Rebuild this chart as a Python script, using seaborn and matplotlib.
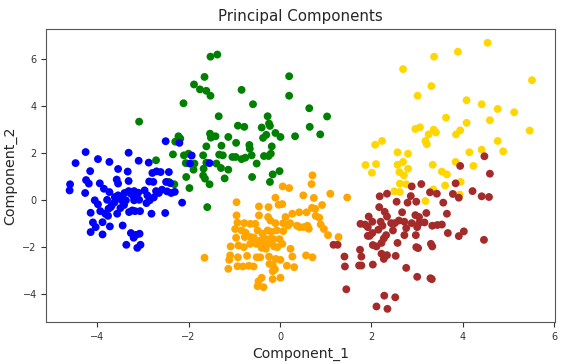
import matplotlib
matplotlib.use("Agg")
import matplotlib.pyplot as plt
import seaborn as sns
import pandas as pd

# cluster points (Component_1, Component_2)
green_x = [-1.52, -1.37, -1.65, 0.20, -1.88, -1.75, -1.61, -0.84, -1.52, 0.20, -2.11, -0.59, 0.64,
           -3.08, -1.34, -0.27, 1.03, -0.92, -0.78, -0.24, -0.22, -0.40, 0.65, -0.10, -0.30, 0.01,
           0.33, 0.88, -1.53, -1.51, -1.41, -1.13, -0.37, -2.22, -2.18, -2.29, -0.96, -1.61, -1.28,
           -0.67, -0.66, -0.18, -2.34, -2.10, -2.00, -1.68, -1.33, -1.25, -1.04, -0.97, -0.84, -0.76,
           -0.62, -0.51, -0.35, -0.20, -0.25, -2.71, -2.06, -1.87, -1.61, -1.39, -1.29, -1.13, -1.67,
           -1.89, -2.05, -1.21, -0.61, -0.16, -0.01, -1.64, -1.68, -1.54, -0.22, -2.31, -2.43, -1.98,
           -1.59]
green_y = [6.09, 6.18, 5.23, 5.26, 4.91, 4.70, 4.64, 4.68, 4.43, 4.43, 4.11, 4.07, 3.90,
           3.33, 3.56, 3.56, 3.55, 3.16, 3.11, 3.25, 3.15, 3.08, 3.11, 2.85, 2.77, 2.68,
           2.71, 2.79, 2.82, 2.65, 2.71, 2.68, 2.64, 2.71, 2.61, 2.48, 2.43, 2.28, 2.31,
           2.34, 2.18, 2.28, 1.94, 1.90, 1.97, 1.90, 1.93, 1.90, 1.83, 1.83, 1.74, 1.80,
           1.90, 1.55, 1.87, 1.97, 1.87, 1.69, 1.57, 1.55, 1.59, 1.55, 1.36, 1.29, 1.33,
           1.29, 0.98, 0.92, 0.98, 1.09, 1.23, 0.91, 1.04, 0.67, 0.77, 0.67, 0.77, 0.51,
           -0.30]

blue_x = [-4.25, -4.47, -4.59, -4.60, -3.98, -3.73, -3.31, -3.09, -2.87, -2.50, -2.20, -1.93, -1.97,
          -1.54, -4.15, -4.24, -4.18, -4.26, -3.94, -3.54, -3.33, -3.57, -3.54, -3.31, -3.85, -3.73,
          -4.05, -4.14, -3.93, -3.98, -3.78, -3.68, -3.54, -3.46, -3.49, -3.41, -3.37, -3.31, -3.26,
          -3.19, -3.10, -2.96, -3.08, -3.19, -3.23, -3.30, -3.17, -3.06, -3.56, -3.75, -3.82, -3.76,
          -2.81, -2.92, -2.85, -2.79, -2.70, -2.61, -2.77, -2.86, -2.43, -2.40, -2.49, -2.71, -2.65,
          -2.58, -2.47, -2.38, -2.76, -2.51, -2.14, -4.09, -3.88, -3.72, -4.03, -3.44, -4.14, -3.88,
          -3.26, -3.15, -3.07, -3.20, -3.36, -3.12, -3.05, -3.61, -3.60, -3.40, -3.20, -2.90, -3.70,
          -3.62, -3.45, -2.30]
blue_y = [2.04, 1.57, 0.67, 0.41, 1.74, 1.62, 2.01, 1.67, 1.59, 2.50, 2.43, 1.89, 1.55,
          1.57, 1.23, 0.85, 0.70, 0.30, 0.71, 1.32, 1.21, 0.87, 0.70, 0.81, 0.48, 0.34,
          -0.01, -0.54, -0.47, -0.18, 0.01, -0.23, 0.20, -0.01, -0.34, -0.21, -0.01, 0.38, 0.27,
          0.38, 0.31, 0.41, 0.01, -0.01, -0.44, -0.51, -0.47, -0.47, -0.58, -0.37, -0.58, -0.67,
          -0.58, -0.13, -0.01, 1.15, 1.22, 1.19, 0.77, 0.79, 1.19, 0.72, 0.77, 0.38, 0.30,
          0.44, 0.37, 0.30, 0.11, -0.55, -0.11, -0.95, -0.94, -1.12, -1.15, -1.08, -1.36, -1.46,
          -1.40, -1.48, -1.43, -1.60, -1.90, -2.03, -1.90, 0.13, 0.10, 0.30, 0.15, 0.20, -0.30,
          -0.10, 0.05, 0.35]

orange_x = [0.71, 0.06, 0.20, 0.69, -0.10, 0.51, 0.74, 1.10, 1.47, -0.95, 0.05, -0.03, -0.46,
            -0.25, 0.92, 0.70, 0.77, -0.95, -0.46, -0.26, 0.12, 0.27, 0.42, 0.58, 0.78, 0.86,
            -0.93, -0.78, -0.65, -0.54, -0.21, -0.10, 0.07, 0.18, 0.22, 0.37, 0.43, 0.52, 0.60,
            0.63, 0.89, 0.96, 1.05, 1.28, -0.98, -0.84, -0.75, -0.96, -0.77, -0.64, -0.57, -0.38,
            -0.49, -0.27, -0.19, -0.07, 0.07, -0.43, -0.32, -0.22, -0.14, -0.01, 0.05, -0.25, -0.38,
            -0.51, -0.65, -0.79, -0.91, -1.08, -0.40, -0.31, -0.13, -0.06, 0.23, -1.09, -0.92, -0.72,
            -0.51, -0.43, -0.24, -0.09, 0.01, 0.27, 0.57, 0.71, -1.65, -1.11, -1.13, -0.93, -0.81,
            -0.68, -0.58, -0.23, -0.16, -0.11, 0.15, 0.31, -0.16, -0.40, -0.47, -0.16, 0.01, -0.49,
            -0.36]
orange_y = [1.05, 0.58, 0.51, 0.68, 0.10, 0.20, 0.09, 0.27, 0.11, -0.09, -0.17, -0.20, -0.27,
            -0.30, -0.21, -0.33, -0.37, -0.65, -0.65, -0.72, -0.72, -0.58, -0.52, -0.52, -0.67, -0.75,
            -0.96, -0.98, -1.01, -1.01, -0.87, -0.98, -0.98, -1.08, -0.98, -1.09, -1.15, -1.15, -1.09,
            -1.22, -1.04, -1.23, -1.49, -1.57, -1.23, -1.29, -1.39, -1.60, -1.57, -1.57, -1.60, -1.43,
            -1.29, -1.29, -1.35, -1.29, -1.32, -1.72, -1.65, -1.66, -1.66, -1.66, -1.86, -1.86, -1.83,
            -1.86, -1.86, -2.00, -1.93, -1.97, -2.03, -2.07, -1.97, -2.00, -2.07, -2.35, -2.43, -2.37,
            -2.43, -2.43, -2.40, -2.50, -2.54, -2.40, -2.35, -2.43, -2.45, -2.54, -2.92, -2.81, -2.82,
            -2.79, -2.82, -2.71, -2.75, -2.94, -2.79, -2.85, -3.02, -3.30, -3.45, -3.36, -3.30, -3.66,
            -3.70]

gold_x = [4.54, 3.89, 3.37, 2.69, 5.51, 3.31, 3.01, 4.08, 4.41, 4.76, 5.12, 3.63, 4.59,
          4.08, 2.96, 3.06, 3.36, 3.41, 3.25, 3.94, 3.85, 5.46, 3.18, 3.21, 4.76, 2.08, 2.23,
          4.41, 4.88, 2.57, 2.80, 4.14, 1.87, 2.10, 2.01, 2.57, 2.69, 2.80, 2.61, 3.34, 3.84,
          4.23, 3.54, 3.65, 2.71, 2.62, 2.76, 3.61, 3.95, 3.35, 2.50, 2.62, 3.18, 3.93]
gold_y = [6.68, 6.30, 6.09, 5.56, 5.09, 4.84, 4.43, 4.24, 4.07, 3.87, 3.73, 3.50, 3.39,
          3.28, 3.02, 3.09, 2.99, 2.87, 2.79, 2.96, 2.79, 2.95, 2.51, 2.37, 2.51, 2.35, 2.51,
          2.14, 2.07, 2.03, 1.97, 2.03, 1.49, 1.53, 1.16, 1.50, 1.62, 1.33, 1.19, 1.50, 1.62,
          1.45, 1.21, 1.09, 1.05, 0.70, 0.67, 0.62, 0.77, 0.45, 0.37, 0.34, -0.04, 0.23]

brown_x = [4.47, 3.94, 4.59, 3.84, 3.09, 2.88, 2.34, 2.18, 2.55, 2.79, 2.98, 3.28, 3.43,
           3.57, 3.78, 3.91, 4.21, 4.41, 4.57, 2.86, 2.17, 2.29, 1.94, 2.34, 2.67, 2.96, 3.04,
           3.20, 3.65, 2.60, 2.43, 2.51, 2.02, 2.72, 2.88, 3.04, 3.16, 1.76, 1.86, 1.92, 2.20,
           2.24, 2.15, 2.76, 3.00, 3.33, 3.44, 3.54, 2.02, 1.92, 1.96, 2.32, 2.27, 2.72, 2.97,
           3.67, 3.91, 4.02, 4.46, 2.57, 2.22, 2.11, 2.03, 3.30, 3.33, 2.98, 3.02, 1.17, 1.26,
           1.75, 2.22, 2.34, 2.53, 2.27, 1.41, 1.78, 1.42, 1.73, 1.78, 2.03, 2.76, 3.00, 3.29,
           3.32, 1.45, 2.28, 2.52, 2.11, 2.35, 2.47]
brown_y = [1.86, 1.45, 1.12, 0.71, 0.68, 0.58, 0.27, 0.16, -0.07, -0.11, -0.07, 0.33, 0.27,
           -0.11, 0.26, 0.10, 0.38, 0.16, 0.13, 0.17, -0.30, -0.50, -0.70, -0.70, -0.52, -0.64, -0.72,
           -0.55, -0.58, -0.87, -0.98, -0.98, -0.92, -0.92, -0.98, -0.98, -0.95, -1.01, -1.04, -1.15, -0.92,
           -1.09, -1.26, -1.19, -1.15, -1.09, -1.06, -1.04, -1.40, -1.52, -1.52, -1.49, -1.63, -1.49, -1.49,
           -1.40, -1.53, -1.33, -1.69, -1.82, -1.82, -1.97, -1.91, -1.86, -1.97, -2.00, -2.04, -1.90, -1.90,
           -2.11, -2.28, -2.34, -2.37, -2.50, -2.40, -2.40, -2.82, -2.78, -2.78, -2.74, -2.88, -3.26, -3.32,
           -3.36, -3.79, -4.06, -4.13, -4.52, -4.62, -1.29]

groups = [("green", green_x, green_y), ("orange", orange_x, orange_y),
          ("blue", blue_x, blue_y), ("gold", gold_x, gold_y), ("brown", brown_x, brown_y)]
frames = [pd.DataFrame({"Component_1": xs, "Component_2": ys, "cluster": name})
          for name, xs, ys in groups]
df = pd.concat(frames, ignore_index=True)

sns.set_style("ticks")
plt.rcParams['font.family'] = ['DejaVu Sans']

fig = plt.figure(figsize=(5.67, 3.64), dpi=100)
ax = fig.add_axes([0.082, 0.115, 0.897, 0.804])
sns.scatterplot(data=df, x="Component_1", y="Component_2", hue="cluster",
                palette={n: n for n, _, _ in groups}, s=32, linewidth=0,
                legend=False, ax=ax)
ax.set_title("Principal Components", fontsize=10.8)
ax.set_xlabel("Component_1", fontsize=10.1)
ax.set_ylabel("Component_2", fontsize=10.3)
ax.tick_params(labelsize=7, colors="#333333")
for sp in ax.spines.values():
    sp.set_color("#555555")
ax.set_xticks([-4, -2, 0, 2, 4, 6])
ax.set_yticks([-4, -2, 0, 2, 4, 6])
ax.margins(0.05)

fig.savefig("out.png", dpi=100)
